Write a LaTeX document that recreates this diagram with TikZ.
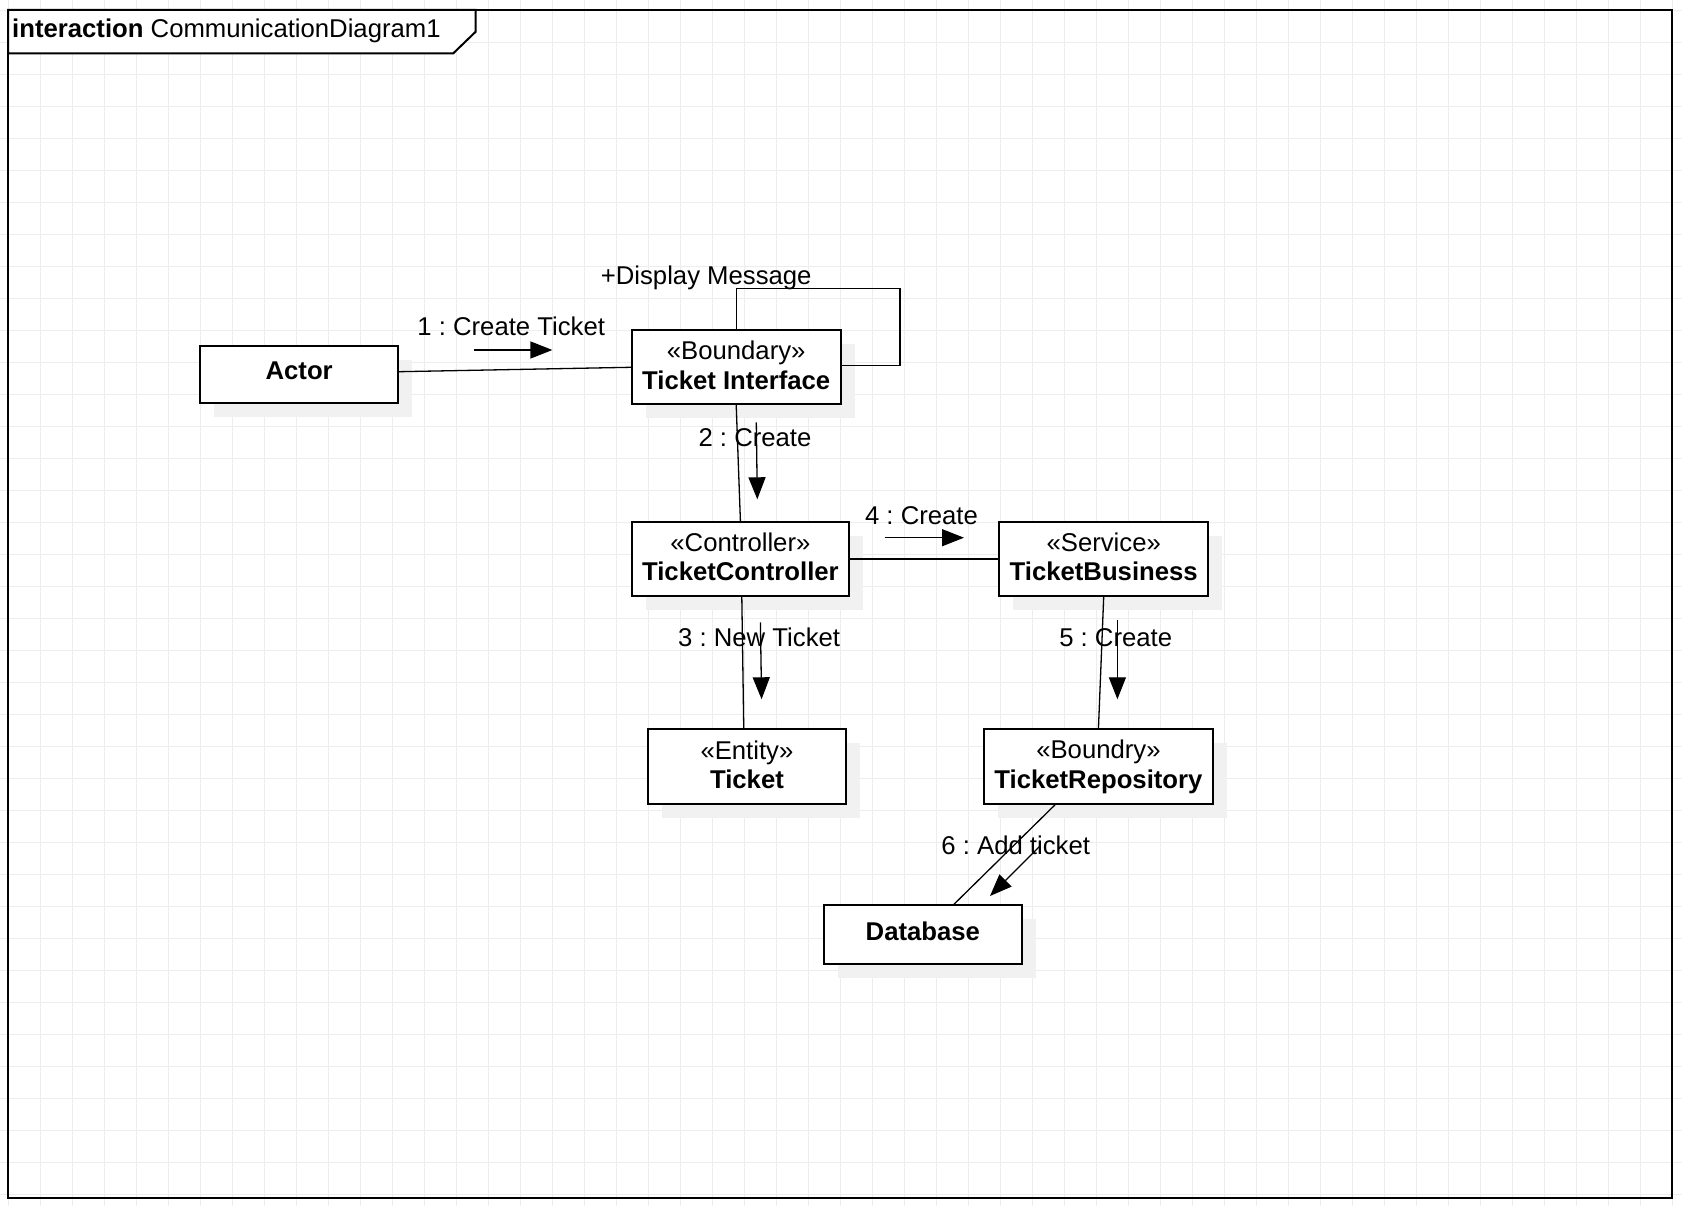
\documentclass[tikz,border=0pt]{standalone}
\usepackage{fontspec}
\setmainfont{Liberation Sans}
\usetikzlibrary{arrows.meta,shadows}
\definecolor{gridgray}{HTML}{EDEDED}
\definecolor{shadowgray}{HTML}{F1F1F1}
\frenchspacing
\begin{document}
\begin{tikzpicture}[x=1pt,y=-1pt,
  every node/.style={font=\fontsize{25.7pt}{29.5pt}\selectfont\frenchspacing, inner sep=0pt},
  objbox/.style={draw, line width=1.8pt, fill=white, align=center,
    drop shadow={shadow xshift=14pt, shadow yshift=-14pt, fill=shadowgray, opacity=1}},
  conn/.style={line width=1.3pt},
  msg/.style={line width=1.3pt, -{Triangle[length=22pt,width=17pt]}},
  msglabel/.style={anchor=base},
  framepen/.style={line width=2pt}
]
\useasboundingbox (0,0) rectangle (1682,1206);
\fill[white] (0,0) rectangle (1682,1206);

% background grid
\foreach \k in {0,...,52} {
  \draw[gridgray, line width=1pt] ({8.3+32*\k},0) -- ({8.3+32*\k},1206);
}
\foreach \k in {0,...,37} {
  \draw[gridgray, line width=1pt] (0,{10.3+32*\k}) -- (1682,{10.3+32*\k});
}

% interaction frame
\coordinate (frameTL) at (8,10);
\coordinate (frameBR) at (1672.3,1197.7);
\draw[framepen] (frameTL) rectangle (frameBR);
\filldraw[framepen, fill=white] (8,10) -- (475.7,10) -- (475.7,31.7) -- (453.3,53.3) -- (8,53.3) -- cycle;
\node[anchor=base west] (title) at (12,38) {\textbf{interaction} CommunicationDiagram1};

% objects
\node[objbox, minimum width=198.3pt, minimum height=57.6pt] (actor) at (299.15,374.5)
  {\textbf{Actor}\rule[-7.4pt]{0pt}{0pt}};
\node[objbox, minimum width=209pt, minimum height=74pt] (ti) at (736.2,367)
  {«Boundary»\\\textbf{Ticket Interface}\rule[-4pt]{0pt}{0pt}};
\node[objbox, minimum width=217.2pt, minimum height=74.3pt] (ctrl) at (740.4,558.85)
  {«Controller»\\\textbf{TicketController}\rule[-4pt]{0pt}{0pt}};
\node[objbox, minimum width=209pt, minimum height=74.3pt] (bus) at (1103.7,558.85)
  {«Service»\\\textbf{TicketBusiness}\rule[-4pt]{0pt}{0pt}};
\node[objbox, minimum width=198.5pt, minimum height=74.7pt] (ticket) at (746.95,766.65)
  {«Entity»\\\textbf{Ticket}\rule[-4pt]{0pt}{0pt}};
\node[objbox, minimum width=229.3pt, minimum height=74.7pt] (repo) at (1098.45,766.65)
  {«Boundry»\\\textbf{TicketRepository}\rule[-4pt]{0pt}{0pt}};
\node[objbox, minimum width=198.5pt, minimum height=58.7pt] (db) at (922.85,934.65)
  {\textbf{Database}\rule[-7.4pt]{0pt}{0pt}};

% links
\draw[conn] ([yshift=2.8pt]actor.east) -- ([yshift=-0.3pt]ti.west);
\draw[conn] (ti.south) -- (ctrl.north);
\draw[conn] ([xshift=1.4pt]ctrl.south) -- ([xshift=-3.2pt]ticket.north);
\draw[conn] (ctrl.east) -- (bus.west);
\draw[conn] (bus.south) -- (repo.north);
\draw[conn] ([xshift=-43.5pt]repo.south) -- ([xshift=31pt]db.north);
\coordinate (loopcorner) at (900,288.3);
\draw[conn] (ti.north) |- (loopcorner) |- ([yshift=1.3pt]ti.east);

% messages
\node[msglabel] (disp) at (706.2,285) {+Display Message};

\coordinate (m1a) at (474.2,350);   \coordinate (m1b) at (552.4,350);
\draw[msg] (m1a) -- (m1b);
\node[msglabel] (l1) at (511.2,336) {1 : Create Ticket};

\coordinate (m2a) at (756.3,422.3); \coordinate (m2b) at (757.3,499.3);
\draw[msg] (m2a) -- (m2b);
\node[msglabel] (l2) at (755,446.7) {2 : Create};

\coordinate (m3a) at (760.4,622.3); \coordinate (m3b) at (761.6,699.3);
\draw[msg] (m3a) -- (m3b);
\node[msglabel] (l3) at (759.1,646.7) {3 : New Ticket};

\coordinate (m4a) at (884.5,537.7); \coordinate (m4b) at (964,537.7);
\draw[msg] (m4a) -- (m4b);
\node[msglabel] (l4) at (921.5,524) {4 : Create};

\coordinate (m5a) at (1117.4,620);  \coordinate (m5b) at (1117.4,699.3);
\draw[msg] (m5a) -- (m5b);
\node[msglabel] (l5) at (1115.7,646.7) {5 : Create};

\coordinate (m6a) at (1040,846);    \coordinate (m6b) at (990,896);
\draw[msg] (m6a) -- (m6b);
\node[msglabel] (l6) at (1015.7,854) {6 : Add ticket};
\end{tikzpicture}
\end{document}
